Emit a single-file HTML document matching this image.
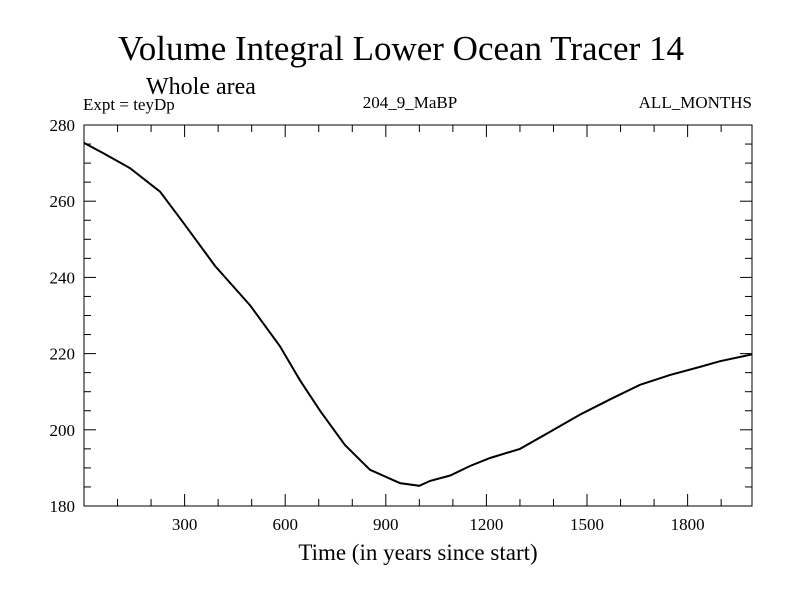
<!DOCTYPE html>
<html><head><meta charset="utf-8"><style>
body{margin:0;background:#fff}
svg{display:block;font-family:"Liberation Serif",serif}
</style></head><body>
<svg id="chart" width="800" height="600">
<text x="401" y="60" font-size="35" text-anchor="middle">Volume Integral Lower Ocean Tracer 14</text>
<text x="146" y="94" font-size="24">Whole area</text>
<text x="83" y="110" font-size="17">Expt = teyDp</text>
<text x="410" y="108" font-size="17" text-anchor="middle">204_9_MaBP</text>
<text x="752" y="108" font-size="17" text-anchor="end">ALL_MONTHS</text>
<text x="418" y="560" font-size="23" text-anchor="middle">Time (in years since start)</text>
<g id="axes"></g>
<path id="line" fill="none" stroke="#000" stroke-width="2"/>
</svg>
<script>
const years=[0,60,137,227,301,391,495,584,644,704,778,853,942,1000,1032,1092,1151,1211,1300,1390,1479,1569,1658,1748,1837,1897,1992];
const values=[275.3,272.5,268.7,262.5,253.8,243,232.7,222,213,205,196,189.5,186,185.3,186.6,188,190.5,192.6,195,199.5,204,208,211.8,214.4,216.5,218,219.8];
const xTicks=[300,600,900,1200,1500,1800];
const yTicks=[180,200,220,240,260,280];
const L=84,R=752,T=125,B=506,XMIN=0,XMAX=1992,YMIN=180,YMAX=280;
const X=v=>L+(v-XMIN)/(XMAX-XMIN)*(R-L);
const Y=v=>B-(v-YMIN)/(YMAX-YMIN)*(B-T);
const NS="http://www.w3.org/2000/svg";
const ax=document.getElementById('axes');
function mk(t,a){const e=document.createElementNS(NS,t);for(const k in a)e.setAttribute(k,a[k]);ax.appendChild(e);return e;}
const fr=mk('rect',{x:L,y:T,width:R-L,height:B-T,fill:'none',stroke:'#000','stroke-width':1});


for(let v=100;v<XMAX;v+=100){const maj=v%300===0;const l=maj?12:7;
mk('line',{x1:X(v),x2:X(v),y1:B,y2:B-l,stroke:'#000'});mk('line',{x1:X(v),x2:X(v),y1:T,y2:T+l,stroke:'#000'});}
for(let v=185;v<280;v+=5){const maj=v%20===0;const l=maj?12:7;
mk('line',{x1:L,x2:L+l,y1:Y(v),y2:Y(v),stroke:'#000'});mk('line',{x1:R,x2:R-l,y1:Y(v),y2:Y(v),stroke:'#000'});}
xTicks.forEach(v=>{const t=mk('text',{x:X(v),y:B+24,'font-size':17,'text-anchor':'middle'});t.textContent=v;

});
yTicks.forEach(v=>{const t=mk('text',{x:L-9,y:Y(v)+6,'font-size':17,'text-anchor':'end'});t.textContent=v;

});
document.getElementById('line').setAttribute('d',years.map((y,i)=>(i?'L':'M')+X(y).toFixed(1)+','+Y(values[i]).toFixed(1)).join(''));
</script>
</body></html>
